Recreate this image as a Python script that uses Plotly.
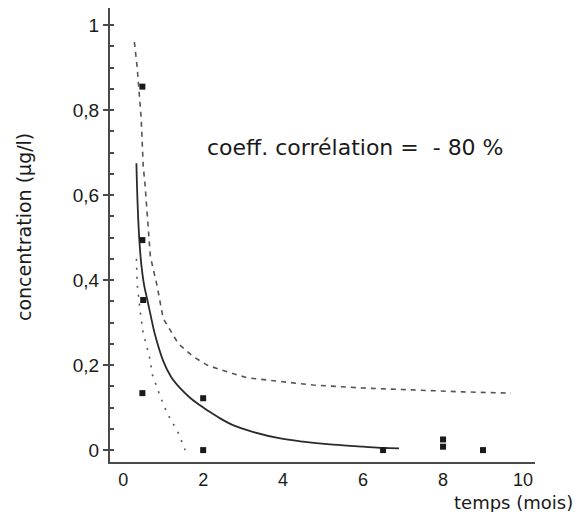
import plotly.graph_objects as go

# measured concentrations (µg/l) against time (months)
obs_t = [0.48, 0.48, 0.50, 0.48, 2.0, 2.0, 6.5, 8.0, 8.0, 9.0]
obs_c = [0.855, 0.494, 0.353, 0.134, 0.122, 0.0, 0.0, 0.025, 0.008, 0.0]

# fitted decay curve
fit_t = [0.33, 0.36, 0.40, 0.45, 0.52, 0.60, 0.68, 0.80, 1.0, 1.2, 1.43, 1.65,
         1.85, 2.1, 2.4, 2.76, 3.2, 3.9, 4.5, 5.25, 6.0, 6.5, 6.9]
fit_c = [0.675, 0.58, 0.50, 0.44, 0.39, 0.355, 0.32, 0.27, 0.21, 0.172, 0.145, 0.125,
         0.11, 0.094, 0.076, 0.058, 0.044, 0.028, 0.020, 0.013, 0.008, 0.005, 0.004]

# upper band
up_t = [0.28, 0.35, 0.45, 0.50, 0.55, 0.60, 0.68, 0.84, 1.0, 1.38, 1.75, 2.1, 2.4,
        3.1, 4.0, 4.75, 6.0, 7.25, 8.5, 9.7]
up_c = [0.96, 0.90, 0.78, 0.67, 0.62, 0.56, 0.455, 0.39, 0.31, 0.25, 0.22, 0.20, 0.19,
        0.17, 0.16, 0.153, 0.146, 0.141, 0.137, 0.134]

# lower band
lo_t = [0.33, 0.35, 0.42, 0.50, 0.60, 0.68, 0.72, 0.93, 1.1, 1.38, 1.55]
lo_c = [0.45, 0.39, 0.33, 0.275, 0.24, 0.21, 0.18, 0.125, 0.087, 0.04, 0.0]

x_ticks = [0, 2, 4, 6, 8, 10]
y_ticks = [0, 0.2, 0.4, 0.6, 0.8, 1.0]   # shown as 0 ; 0,2 ; ... ; 1 (decimal comma)
y_minor_step = 0.05

axis_col = "#4a4a4a"
tick_font = "Liberation Sans, Arial, sans-serif"
text_font = "DejaVu Sans, sans-serif"

fig = go.Figure()
fig.add_trace(go.Scatter(x=up_t, y=up_c, mode="lines",
                         line=dict(color="#555555", width=1.6, dash="5px,5px"),
                         hoverinfo="skip"))
fig.add_trace(go.Scatter(x=lo_t, y=lo_c, mode="lines",
                         line=dict(color="#555555", width=1.6, dash="2px,7px"),
                         hoverinfo="skip"))
fig.add_trace(go.Scatter(x=fit_t, y=fit_c, mode="lines", line_shape="spline",
                         line=dict(color="#2a2a2a", width=1.8)))
fig.add_trace(go.Scatter(x=obs_t, y=obs_c, mode="markers",
                         marker=dict(symbol="square", size=6, color="#1a1a1a")))

fig.add_annotation(x=2.05, y=0.713, xref="x", yref="y", xanchor="left",
                   text="coeff. corrélation =  - 80 %", showarrow=False,
                   font=dict(size=22, color="#1a1a1a", family=text_font))

fig.update_layout(
    width=576, height=512,
    margin=dict(l=110, r=41, t=8, b=50),
    paper_bgcolor="white", plot_bgcolor="white",
    showlegend=False,
    separators=", ",
    font=dict(family=tick_font, color="#1a1a1a"),
)
fig.update_xaxes(
    range=[-0.33, 10.3], tickvals=x_ticks, showgrid=False, zeroline=False,
    showline=True, linecolor=axis_col, linewidth=2,
    ticks="", ticklabelstandoff=0, tickfont=dict(size=18, color="#1a1a1a"),
)
fig.update_yaxes(
    range=[-0.028, 1.04], tickmode="linear", tick0=y_ticks[0],
    dtick=y_ticks[1] - y_ticks[0],
    showgrid=False, zeroline=False, showline=True, linecolor=axis_col, linewidth=2,
    ticks="outside", ticklen=5, tickwidth=1.5, tickcolor=axis_col,
    tickfont=dict(size=19, color="#1a1a1a"),
    minor=dict(tick0=0, dtick=y_minor_step, ticks="inside", ticklen=4,
               tickcolor=axis_col, tickwidth=1.5),
)

fig.add_annotation(x=1.0, y=0, xref="paper", yref="paper", xanchor="right",
                   yanchor="bottom", xshift=40, yshift=-53, text="temps (mois)",
                   showarrow=False,
                   font=dict(size=18, color="#1a1a1a", family=text_font))
fig.add_annotation(x=0, y=0.5, xref="paper", yref="paper", xanchor="center",
                   yanchor="middle", xshift=-86, yshift=8, textangle=-90,
                   text="concentration (µg/l)", showarrow=False,
                   font=dict(size=19, color="#1a1a1a", family=text_font))

fig.write_html("out.html")
